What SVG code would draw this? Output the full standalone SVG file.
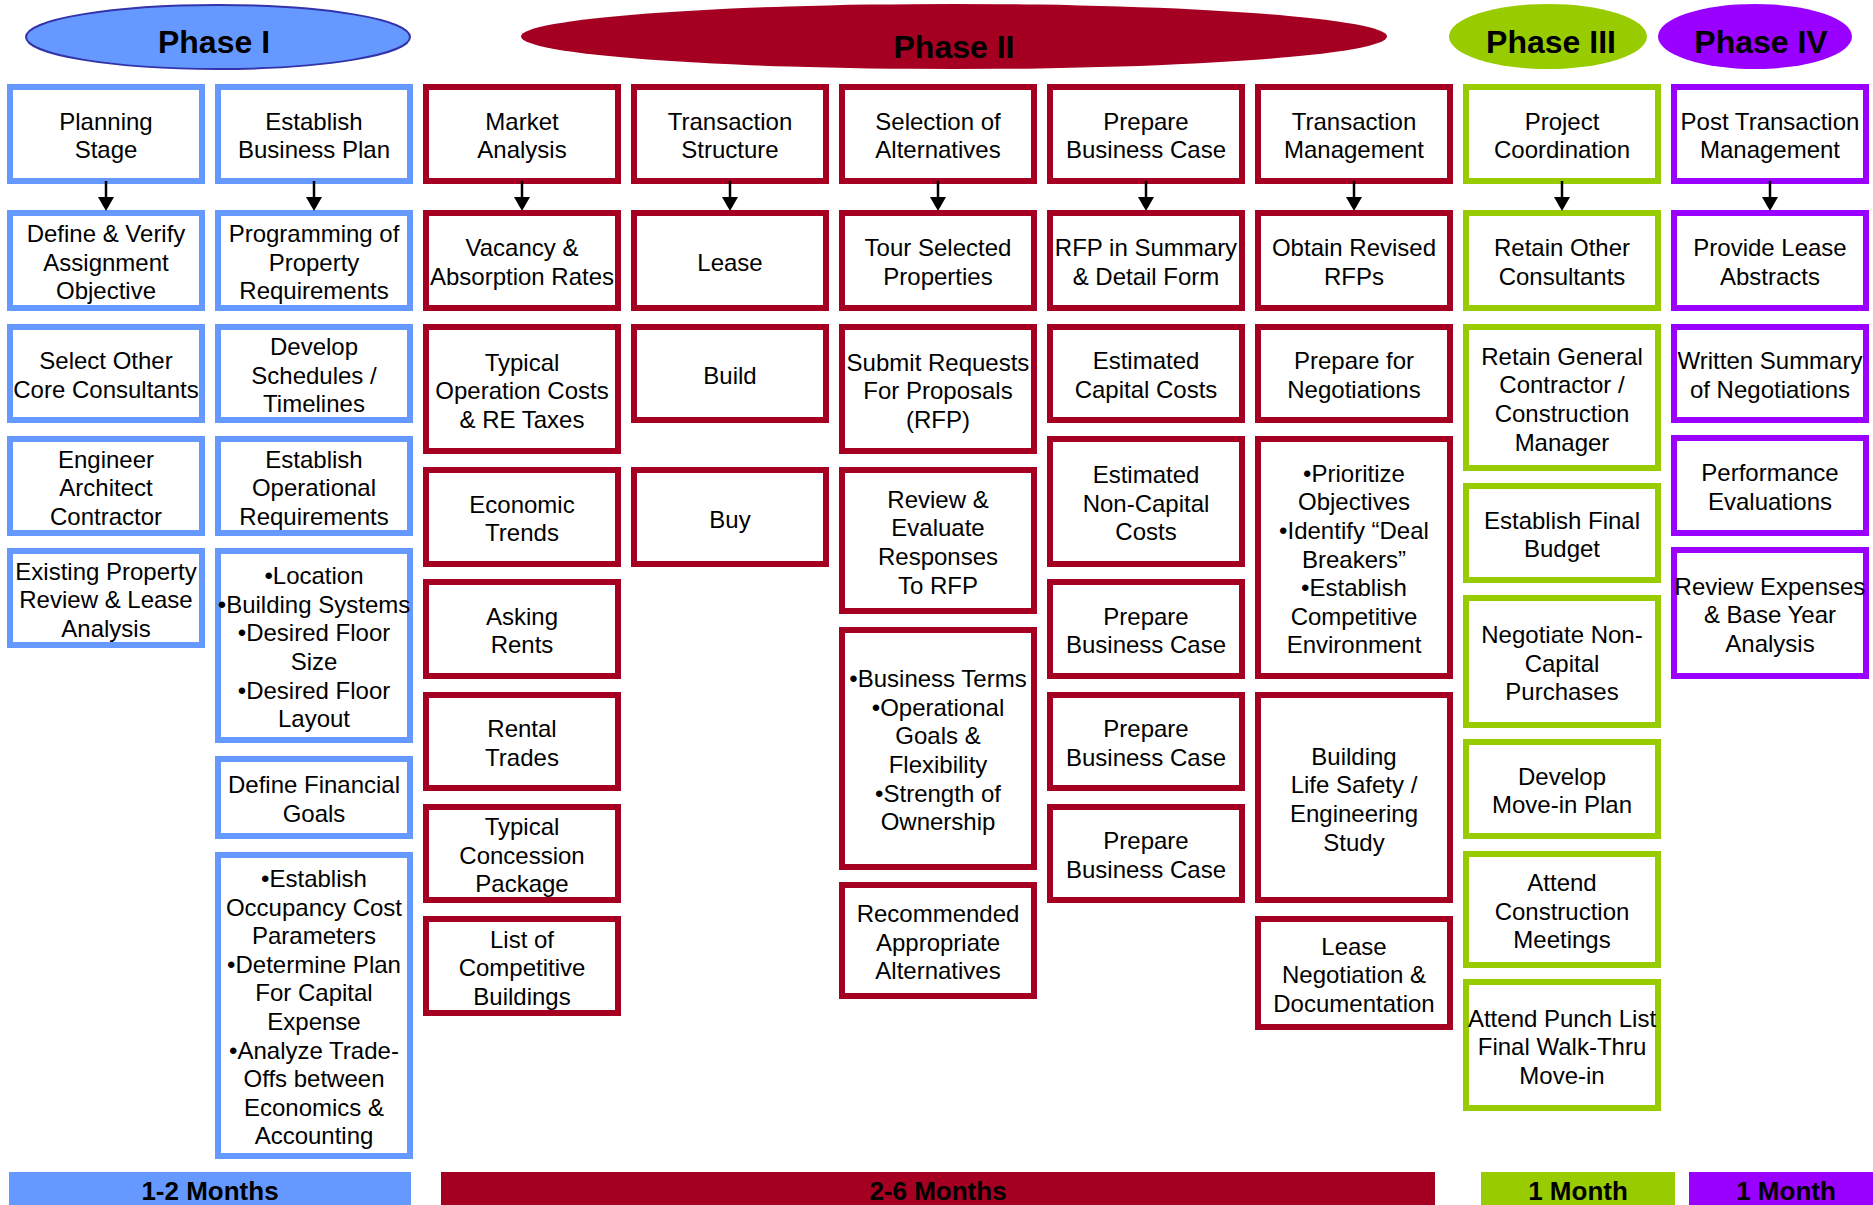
<svg xmlns="http://www.w3.org/2000/svg" width="1873" height="1205" viewBox="0 0 1873 1205">
<style>
rect.box{fill:#fff;stroke-width:6}
.b{stroke:#6699FF}
.r{stroke:#A50021}
.g{stroke:#99CC00}
.p{stroke:#9900FF}
text.t{font-family:"Liberation Sans",Arial,sans-serif;font-size:24px;fill:#000;text-anchor:middle;transform:translateY(1.5px)}
text.ph{font-family:"Liberation Sans",Arial,sans-serif;font-size:32px;font-weight:bold;fill:#000;text-anchor:middle}
text.bar{font-family:"Liberation Sans",Arial,sans-serif;font-size:26px;font-weight:bold;fill:#000;text-anchor:middle}
line.arr{stroke:#000;stroke-width:2.5;marker-end:url(#ah)}
</style>
<defs>
<marker id="ah" viewBox="0 0 14 16" refX="1" refY="8" markerWidth="14" markerHeight="16" orient="auto" markerUnits="userSpaceOnUse">
<path d="M0,0 L14,8 L0,16 z" fill="#000"/>
</marker>
</defs>
<rect width="1873" height="1205" fill="#fff"/>

<!-- Phase headers -->
<g id="phase1"><ellipse cx="218" cy="37" rx="192" ry="32" fill="#6699FF" stroke="#3333AA" stroke-width="2"/><text class="ph" x="214" y="53">Phase I</text></g>
<g id="phase2"><ellipse cx="954" cy="36.5" rx="433" ry="32.5" fill="#A50021"/><text class="ph" x="954" y="58">Phase II</text></g>
<g id="phase3"><ellipse cx="1548" cy="36.5" rx="99" ry="32.5" fill="#99CC00"/><text class="ph" x="1551" y="53">Phase III</text></g>
<g id="phase4"><ellipse cx="1755" cy="36.5" rx="97" ry="32.5" fill="#9900FF"/><text class="ph" x="1761" y="53">Phase IV</text></g>

<!-- Column 1 -->
<g id="planning-stage"><rect class="box b" x="10" y="87" width="192" height="94"/><text class="t"><tspan x="106" y="128.3">Planning</tspan><tspan x="106" y="156.9">Stage</tspan></text></g>
<g id="define-verify"><rect class="box b" x="10" y="213" width="192" height="95"/><text class="t"><tspan x="106" y="240.5">Define &amp; Verify</tspan><tspan x="106" y="269.1">Assignment</tspan><tspan x="106" y="297.7">Objective</tspan></text></g>
<g id="select-other"><rect class="box b" x="10" y="327" width="192" height="93"/><text class="t"><tspan x="106" y="367.8">Select Other</tspan><tspan x="106" y="396.4">Core Consultants</tspan></text></g>
<g id="engineer"><rect class="box b" x="10" y="439" width="192" height="94"/><text class="t"><tspan x="106" y="466">Engineer</tspan><tspan x="106" y="494.6">Architect</tspan><tspan x="106" y="523.2">Contractor</tspan></text></g>
<g id="existing-property"><rect class="box b" x="10" y="551" width="192" height="94"/><text class="t"><tspan x="106" y="578">Existing Property</tspan><tspan x="106" y="606.6">Review &amp; Lease</tspan><tspan x="106" y="635.2">Analysis</tspan></text></g>

<!-- Column 2 -->
<g id="establish-business-plan"><rect class="box b" x="218" y="87" width="192" height="94"/><text class="t"><tspan x="314" y="128.3">Establish</tspan><tspan x="314" y="156.9">Business Plan</tspan></text></g>
<g id="programming"><rect class="box b" x="218" y="213" width="192" height="95"/><text class="t"><tspan x="314" y="240.5">Programming of</tspan><tspan x="314" y="269.1">Property</tspan><tspan x="314" y="297.7">Requirements</tspan></text></g>
<g id="develop-schedules"><rect class="box b" x="218" y="327" width="192" height="93"/><text class="t"><tspan x="314" y="353.5">Develop</tspan><tspan x="314" y="382.1">Schedules /</tspan><tspan x="314" y="410.7">Timelines</tspan></text></g>
<g id="establish-operational"><rect class="box b" x="218" y="439" width="192" height="94"/><text class="t"><tspan x="314" y="466">Establish</tspan><tspan x="314" y="494.6">Operational</tspan><tspan x="314" y="523.2">Requirements</tspan></text></g>
<g id="location-list"><rect class="box b" x="218" y="551" width="192" height="189"/><text class="t"><tspan x="314" y="582.6">•Location</tspan><tspan x="314" y="611.2">•Building Systems</tspan><tspan x="314" y="639.8">•Desired Floor</tspan><tspan x="314" y="668.4">Size</tspan><tspan x="314" y="697">•Desired Floor</tspan><tspan x="314" y="725.6">Layout</tspan></text></g>
<g id="define-financial"><rect class="box b" x="218" y="759" width="192" height="77"/><text class="t"><tspan x="314" y="791.8">Define Financial</tspan><tspan x="314" y="820.4">Goals</tspan></text></g>
<g id="occupancy-list"><rect class="box b" x="218" y="855" width="192" height="301"/><text class="t"><tspan x="314" y="885.4">•Establish</tspan><tspan x="314" y="914">Occupancy Cost</tspan><tspan x="314" y="942.6">Parameters</tspan><tspan x="314" y="971.2">•Determine Plan</tspan><tspan x="314" y="999.8">For Capital</tspan><tspan x="314" y="1028.4">Expense</tspan><tspan x="314" y="1057">•Analyze Trade-</tspan><tspan x="314" y="1085.6">Offs between</tspan><tspan x="314" y="1114.2">Economics &amp;</tspan><tspan x="314" y="1142.8">Accounting</tspan></text></g>

<!-- Column 3 -->
<g id="market-analysis"><rect class="box r" x="426" y="87" width="192" height="94"/><text class="t"><tspan x="522" y="128.3">Market</tspan><tspan x="522" y="156.9">Analysis</tspan></text></g>
<g id="vacancy"><rect class="box r" x="426" y="213" width="192" height="95"/><text class="t"><tspan x="522" y="254.8">Vacancy &amp;</tspan><tspan x="522" y="283.4">Absorption Rates</tspan></text></g>
<g id="typical-operation"><rect class="box r" x="426" y="327" width="192" height="124"/><text class="t"><tspan x="522" y="369">Typical</tspan><tspan x="522" y="397.6">Operation Costs</tspan><tspan x="522" y="426.2">&amp; RE Taxes</tspan></text></g>
<g id="economic-trends"><rect class="box r" x="426" y="470" width="192" height="94"/><text class="t"><tspan x="522" y="511.3">Economic</tspan><tspan x="522" y="539.9">Trends</tspan></text></g>
<g id="asking-rents"><rect class="box r" x="426" y="582" width="192" height="94"/><text class="t"><tspan x="522" y="623.3">Asking</tspan><tspan x="522" y="651.9">Rents</tspan></text></g>
<g id="rental-trades"><rect class="box r" x="426" y="695" width="192" height="93"/><text class="t"><tspan x="522" y="735.8">Rental</tspan><tspan x="522" y="764.4">Trades</tspan></text></g>
<g id="typical-concession"><rect class="box r" x="426" y="807" width="192" height="93"/><text class="t"><tspan x="522" y="833.5">Typical</tspan><tspan x="522" y="862.1">Concession</tspan><tspan x="522" y="890.7">Package</tspan></text></g>
<g id="competitive-buildings"><rect class="box r" x="426" y="919" width="192" height="94"/><text class="t"><tspan x="522" y="946">List of</tspan><tspan x="522" y="974.6">Competitive</tspan><tspan x="522" y="1003.2">Buildings</tspan></text></g>

<!-- Column 4 -->
<g id="transaction-structure"><rect class="box r" x="634" y="87" width="192" height="94"/><text class="t"><tspan x="730" y="128.3">Transaction</tspan><tspan x="730" y="156.9">Structure</tspan></text></g>
<g id="lease"><rect class="box r" x="634" y="213" width="192" height="95"/><text class="t" x="730" y="269.6">Lease</text></g>
<g id="build"><rect class="box r" x="634" y="327" width="192" height="93"/><text class="t" x="730" y="382.6">Build</text></g>
<g id="buy"><rect class="box r" x="634" y="470" width="192" height="94"/><text class="t" x="730" y="526.1">Buy</text></g>

<!-- Column 5 -->
<g id="selection-alternatives"><rect class="box r" x="842" y="87" width="192" height="94"/><text class="t"><tspan x="938" y="128.3">Selection of</tspan><tspan x="938" y="156.9">Alternatives</tspan></text></g>
<g id="tour-selected"><rect class="box r" x="842" y="213" width="192" height="95"/><text class="t"><tspan x="938" y="254.8">Tour Selected</tspan><tspan x="938" y="283.4">Properties</tspan></text></g>
<g id="submit-requests"><rect class="box r" x="842" y="327" width="192" height="124"/><text class="t"><tspan x="938" y="369">Submit Requests</tspan><tspan x="938" y="397.6">For Proposals</tspan><tspan x="938" y="426.2">(RFP)</tspan></text></g>
<g id="review-evaluate"><rect class="box r" x="842" y="470" width="192" height="141"/><text class="t"><tspan x="938" y="506.2">Review &amp;</tspan><tspan x="938" y="534.8">Evaluate</tspan><tspan x="938" y="563.4">Responses</tspan><tspan x="938" y="592">To RFP</tspan></text></g>
<g id="business-terms"><rect class="box r" x="842" y="630" width="192" height="237"/><text class="t"><tspan x="938" y="685.6">•Business Terms</tspan><tspan x="938" y="714.2">•Operational</tspan><tspan x="938" y="742.8">Goals &amp;</tspan><tspan x="938" y="771.4">Flexibility</tspan><tspan x="938" y="800">•Strength of</tspan><tspan x="938" y="828.6">Ownership</tspan></text></g>
<g id="recommended"><rect class="box r" x="842" y="885" width="192" height="111"/><text class="t"><tspan x="938" y="920.5">Recommended</tspan><tspan x="938" y="949.1">Appropriate</tspan><tspan x="938" y="977.7">Alternatives</tspan></text></g>

<!-- Column 6 -->
<g id="prepare-business-case"><rect class="box r" x="1050" y="87" width="192" height="94"/><text class="t"><tspan x="1146" y="128.3">Prepare</tspan><tspan x="1146" y="156.9">Business Case</tspan></text></g>
<g id="rfp-summary"><rect class="box r" x="1050" y="213" width="192" height="95"/><text class="t"><tspan x="1146" y="254.8">RFP in Summary</tspan><tspan x="1146" y="283.4">&amp; Detail Form</tspan></text></g>
<g id="capital-costs"><rect class="box r" x="1050" y="327" width="192" height="93"/><text class="t"><tspan x="1146" y="367.8">Estimated</tspan><tspan x="1146" y="396.4">Capital Costs</tspan></text></g>
<g id="non-capital-costs"><rect class="box r" x="1050" y="439" width="192" height="125"/><text class="t"><tspan x="1146" y="481.5">Estimated</tspan><tspan x="1146" y="510.1">Non-Capital</tspan><tspan x="1146" y="538.7">Costs</tspan></text></g>
<g id="business-case-2"><rect class="box r" x="1050" y="582" width="192" height="94"/><text class="t"><tspan x="1146" y="623.3">Prepare</tspan><tspan x="1146" y="651.9">Business Case</tspan></text></g>
<g id="business-case-3"><rect class="box r" x="1050" y="695" width="192" height="93"/><text class="t"><tspan x="1146" y="735.8">Prepare</tspan><tspan x="1146" y="764.4">Business Case</tspan></text></g>
<g id="business-case-4"><rect class="box r" x="1050" y="807" width="192" height="93"/><text class="t"><tspan x="1146" y="847.8">Prepare</tspan><tspan x="1146" y="876.4">Business Case</tspan></text></g>

<!-- Column 7 -->
<g id="transaction-management"><rect class="box r" x="1258" y="87" width="192" height="94"/><text class="t"><tspan x="1354" y="128.3">Transaction</tspan><tspan x="1354" y="156.9">Management</tspan></text></g>
<g id="obtain-revised"><rect class="box r" x="1258" y="213" width="192" height="95"/><text class="t"><tspan x="1354" y="254.8">Obtain Revised</tspan><tspan x="1354" y="283.4">RFPs</tspan></text></g>
<g id="prepare-negotiations"><rect class="box r" x="1258" y="327" width="192" height="93"/><text class="t"><tspan x="1354" y="367.8">Prepare for</tspan><tspan x="1354" y="396.4">Negotiations</tspan></text></g>
<g id="prioritize-list"><rect class="box r" x="1258" y="439" width="192" height="237"/><text class="t"><tspan x="1354" y="480.3">•Prioritize</tspan><tspan x="1354" y="508.9">Objectives</tspan><tspan x="1354" y="537.5">•Identify “Deal</tspan><tspan x="1354" y="566.1">Breakers”</tspan><tspan x="1354" y="594.7">•Establish</tspan><tspan x="1354" y="623.3">Competitive</tspan><tspan x="1354" y="651.9">Environment</tspan></text></g>
<g id="life-safety"><rect class="box r" x="1258" y="695" width="192" height="205"/><text class="t"><tspan x="1354" y="763.2">Building</tspan><tspan x="1354" y="791.8">Life Safety /</tspan><tspan x="1354" y="820.4">Engineering</tspan><tspan x="1354" y="849">Study</tspan></text></g>
<g id="lease-negotiation"><rect class="box r" x="1258" y="919" width="192" height="108"/><text class="t"><tspan x="1354" y="953">Lease</tspan><tspan x="1354" y="981.6">Negotiation &amp;</tspan><tspan x="1354" y="1010.2">Documentation</tspan></text></g>

<!-- Column 8 -->
<g id="project-coordination"><rect class="box g" x="1466" y="87" width="192" height="94"/><text class="t"><tspan x="1562" y="128.3">Project</tspan><tspan x="1562" y="156.9">Coordination</tspan></text></g>
<g id="retain-other"><rect class="box g" x="1466" y="213" width="192" height="95"/><text class="t"><tspan x="1562" y="254.8">Retain Other</tspan><tspan x="1562" y="283.4">Consultants</tspan></text></g>
<g id="retain-general"><rect class="box g" x="1466" y="327" width="192" height="141"/><text class="t"><tspan x="1562" y="363.2">Retain General</tspan><tspan x="1562" y="391.8">Contractor /</tspan><tspan x="1562" y="420.4">Construction</tspan><tspan x="1562" y="449">Manager</tspan></text></g>
<g id="final-budget"><rect class="box g" x="1466" y="486" width="192" height="94"/><text class="t"><tspan x="1562" y="527.3">Establish Final</tspan><tspan x="1562" y="555.9">Budget</tspan></text></g>
<g id="non-capital-purchases"><rect class="box g" x="1466" y="598" width="192" height="127"/><text class="t"><tspan x="1562" y="641.5">Negotiate Non-</tspan><tspan x="1562" y="670.1">Capital</tspan><tspan x="1562" y="698.7">Purchases</tspan></text></g>
<g id="move-in-plan"><rect class="box g" x="1466" y="742" width="192" height="94"/><text class="t"><tspan x="1562" y="783.3">Develop</tspan><tspan x="1562" y="811.9">Move-in Plan</tspan></text></g>
<g id="construction-meetings"><rect class="box g" x="1466" y="854" width="192" height="111"/><text class="t"><tspan x="1562" y="889.5">Attend</tspan><tspan x="1562" y="918.1">Construction</tspan><tspan x="1562" y="946.7">Meetings</tspan></text></g>
<g id="punch-list"><rect class="box g" x="1466" y="982" width="192" height="126"/><text class="t"><tspan x="1562" y="1025">Attend Punch List</tspan><tspan x="1562" y="1053.6">Final Walk-Thru</tspan><tspan x="1562" y="1082.2">Move-in</tspan></text></g>

<!-- Column 9 -->
<g id="post-transaction"><rect class="box p" x="1674" y="87" width="192" height="94"/><text class="t"><tspan x="1770" y="128.3">Post Transaction</tspan><tspan x="1770" y="156.9">Management</tspan></text></g>
<g id="lease-abstracts"><rect class="box p" x="1674" y="213" width="192" height="95"/><text class="t"><tspan x="1770" y="254.8">Provide Lease</tspan><tspan x="1770" y="283.4">Abstracts</tspan></text></g>
<g id="written-summary"><rect class="box p" x="1674" y="327" width="192" height="93"/><text class="t"><tspan x="1770" y="367.8">Written Summary</tspan><tspan x="1770" y="396.4">of Negotiations</tspan></text></g>
<g id="performance"><rect class="box p" x="1674" y="438" width="192" height="95"/><text class="t"><tspan x="1770" y="479.8">Performance</tspan><tspan x="1770" y="508.4">Evaluations</tspan></text></g>
<g id="review-expenses"><rect class="box p" x="1674" y="550" width="192" height="126"/><text class="t"><tspan x="1770" y="593">Review Expenses</tspan><tspan x="1770" y="621.6">&amp; Base Year</tspan><tspan x="1770" y="650.2">Analysis</tspan></text></g>

<!-- Connectors -->
<g id="connectors">
<line class="arr" x1="106" y1="181" x2="106" y2="198"/>
<line class="arr" x1="314" y1="181" x2="314" y2="198"/>
<line class="arr" x1="522" y1="181" x2="522" y2="198"/>
<line class="arr" x1="730" y1="181" x2="730" y2="198"/>
<line class="arr" x1="938" y1="181" x2="938" y2="198"/>
<line class="arr" x1="1146" y1="181" x2="1146" y2="198"/>
<line class="arr" x1="1354" y1="181" x2="1354" y2="198"/>
<line class="arr" x1="1562" y1="181" x2="1562" y2="198"/>
<line class="arr" x1="1770" y1="181" x2="1770" y2="198"/>
</g>

<!-- Duration bars -->
<g id="duration-1"><rect x="9" y="1172" width="402" height="40" fill="#6699FF"/><text class="bar" x="210" y="1200">1-2 Months</text></g>
<g id="duration-2"><rect x="441" y="1172" width="994" height="40" fill="#A50021"/><text class="bar" x="938" y="1200">2-6 Months</text></g>
<g id="duration-3"><rect x="1481" y="1172" width="194" height="40" fill="#99CC00"/><text class="bar" x="1578" y="1200">1 Month</text></g>
<g id="duration-4"><rect x="1689" y="1172" width="190" height="40" fill="#9900FF"/><text class="bar" x="1786" y="1200">1 Month</text></g>
</svg>
